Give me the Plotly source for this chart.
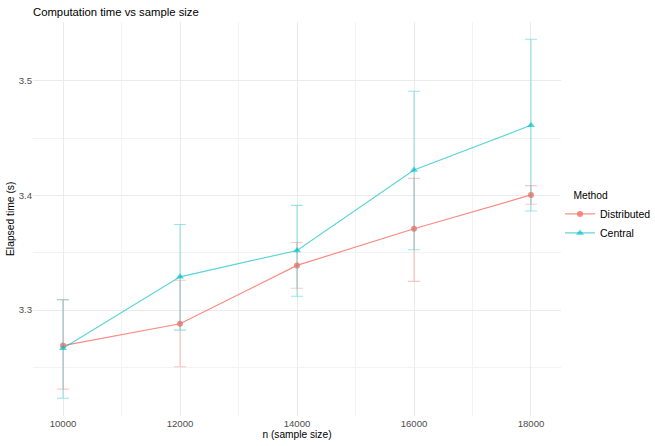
import plotly.graph_objects as go

n = [10000, 12000, 14000, 16000, 18000]

dist_mean = [3.269, 3.288, 3.339, 3.371, 3.4005]
dist_upper = [3.309, 3.326, 3.359, 3.415, 3.4086]
dist_lower = [3.231, 3.2505, 3.319, 3.325, 3.3924]

cent_mean = [3.2666, 3.329, 3.352, 3.4223, 3.4613]
cent_upper = [3.309, 3.3747, 3.3914, 3.491, 3.5364]
cent_lower = [3.223, 3.2825, 3.312, 3.3527, 3.3865]

x_ticks = [10000, 12000, 14000, 16000, 18000]
y_ticks = [3.3, 3.4, 3.5]

RED = "rgba(248,118,109,0.85)"
RED_EB = "rgba(248,118,109,0.4)"
TEAL = "rgba(0,191,196,0.65)"
TEAL_EB = "rgba(0,191,196,0.4)"

def errs(mean, up, lo):
    return [u - m for u, m in zip(up, mean)], [m - l for m, l in zip(mean, lo)]

du, dl = errs(dist_mean, dist_upper, dist_lower)
cu, cl = errs(cent_mean, cent_upper, cent_lower)

fig = go.Figure()
fig.add_trace(go.Scatter(
    x=n, y=dist_mean, name="Distributed", mode="lines+markers",
    line=dict(color=RED, width=1.2),
    marker=dict(symbol="circle", size=6, color=RED),
    error_y=dict(type="data", symmetric=False, array=du, arrayminus=dl,
                 color=RED_EB, thickness=1.1, width=6),
))
fig.add_trace(go.Scatter(
    x=n, y=cent_mean, name="Central", mode="lines+markers",
    line=dict(color=TEAL, width=1.2),
    marker=dict(symbol="triangle-up", size=7, color=TEAL),
    error_y=dict(type="data", symmetric=False, array=cu, arrayminus=cl,
                 color=TEAL_EB, thickness=1.1, width=6),
))

L, R, T, B = 33, 561, 22, 416
W, H = 655, 446
PW, PH = R - L, B - T

grid = "#EBEBEB"
fig.update_layout(
    width=W, height=H,
    margin=dict(l=L, r=W - R, t=T, b=H - B, autoexpand=False),
    paper_bgcolor="white", plot_bgcolor="white",
    font=dict(family="Liberation Sans, Arial, sans-serif", color="#000000"),
    title=dict(text="Computation time vs sample size", x=0, xref="paper", xanchor="left",
               y=1 - 12 / H, yref="container", yanchor="middle",
               font=dict(size=11.3, color="#000000")),
    showlegend=True,
    legend=dict(title=dict(text="\u00a0\u00a0\u00a0\u00a0Method", font=dict(size=10.3)),
                font=dict(size=10.5),
                x=(560 - L) / PW, xanchor="left", y=(B - 217) / PH, yanchor="middle",
                tracegroupgap=0, itemwidth=30),
    xaxis=dict(range=[9487, 18513], tickvals=x_ticks, ticktext=[str(v) for v in x_ticks],
               showgrid=True, gridcolor=grid, gridwidth=1, zeroline=False,
               showline=False, ticks="", tickfont=dict(size=9.6, color="#4D4D4D"),
               minor=dict(tickvals=[11000, 13000, 15000, 17000], showgrid=True,
                          gridcolor="#F3F3F3", gridwidth=1),
               title=dict(text="n (sample size)", font=dict(size=10.2), standoff=2)),
    yaxis=dict(range=[3.2075, 3.5515], tickvals=y_ticks, ticktext=["3.3", "3.4", "3.5"],
               showgrid=True, gridcolor=grid, gridwidth=1, zeroline=False,
               showline=False, ticks="", tickfont=dict(size=9.6, color="#4D4D4D"),
               minor=dict(tickvals=[3.25, 3.35, 3.45], showgrid=True,
                          gridcolor="#F3F3F3", gridwidth=1)),
    annotations=[dict(text="Elapsed time (s)", textangle=-90, x=(10 - L) / PW, xref="paper",
                      y=0.5, yref="paper", showarrow=False, font=dict(size=10.3),
                      xanchor="center", yanchor="middle")],
)

fig.write_html("out.html")
